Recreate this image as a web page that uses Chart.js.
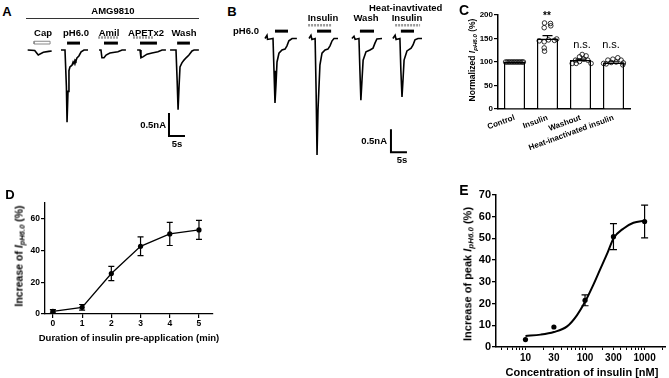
<!DOCTYPE html>
<html>
<head>
<meta charset="utf-8">
<script src="https://cdn.jsdelivr.net/npm/chart.js@4.4.1/dist/chart.umd.min.js"></script>
<style>
html,body{margin:0;padding:0;background:#fff}
body{width:669px;height:378px;position:relative;overflow:hidden;font-family:"Liberation Sans",Arial,sans-serif;color:#000}
canvas{position:absolute}
.t{position:absolute;white-space:nowrap;line-height:1;font-weight:bold;transform:translate(-50%,-50%)}
.r{transform:translate(-50%,-50%) rotate(-90deg)}
.la{transform:translate(0,-50%)}
.ra{transform:translate(-100%,-50%)}
.s{font-size:0.72em;vertical-align:-0.3em;font-style:italic}
.hr{position:absolute;height:1px;background:#333}
</style>
</head>
<body>

<canvas id="chartA" width="190" height="125" style="left:20px;top:20px"></canvas>
<canvas id="chartB" width="170" height="140" style="left:262px;top:20px"></canvas>
<canvas id="chartC" width="185" height="150" style="left:455px;top:5px"></canvas>
<canvas id="chartD" width="230" height="165" style="left:0px;top:180px"></canvas>
<canvas id="chartE" width="229" height="198" style="left:440px;top:180px"></canvas>

<!-- panel letters -->
<div class="t" style="left:7px;top:11px;font-size:13px">A</div>
<div class="t" style="left:232px;top:11px;font-size:13px">B</div>
<div class="t" style="left:464px;top:10px;font-size:14px">C</div>
<div class="t" style="left:10px;top:194px;font-size:13px">D</div>
<div class="t" style="left:464px;top:190px;font-size:14px">E</div>

<!-- A labels -->
<div class="t" style="left:113px;top:11px;font-size:9.5px">AMG9810</div>
<div class="hr" style="left:26px;top:18px;width:173px"></div>
<div class="t" style="left:43px;top:33px;font-size:9.5px">Cap</div>
<div class="t" style="left:76px;top:33px;font-size:9.5px">pH6.0</div>
<div class="t" style="left:109px;top:33px;font-size:9.5px">Amil</div>
<div class="t" style="left:146px;top:33px;font-size:9.5px">APETx2</div>
<div class="t" style="left:184px;top:33px;font-size:9.5px">Wash</div>
<div class="t ra" style="left:166px;top:125px;font-size:9.5px">0.5nA</div>
<div class="t" style="left:177px;top:144px;font-size:9.5px">5s</div>

<!-- B labels -->
<div class="t" style="left:246px;top:31px;font-size:9.5px">pH6.0</div>
<div class="t la" style="left:369px;top:8px;font-size:9.5px">Heat-inavtivated</div>
<div class="t" style="left:323px;top:18px;font-size:9.5px">Insulin</div>
<div class="t" style="left:366px;top:18px;font-size:9.5px">Wash</div>
<div class="t" style="left:407px;top:18px;font-size:9.5px">Insulin</div>
<div class="t ra" style="left:387px;top:141px;font-size:9.5px">0.5nA</div>
<div class="t" style="left:402px;top:160px;font-size:9.5px">5s</div>

<!-- C labels -->
<div class="t r" style="left:473px;top:60px;font-size:8.5px">Normalized <i>I</i><span class="s">pH6.0</span> (%)</div>
<div class="t" style="left:547px;top:16px;font-size:10px">**</div>
<div class="t" style="left:582px;top:44px;font-size:11px;font-weight:normal">n.s.</div>
<div class="t" style="left:611px;top:44px;font-size:11px;font-weight:normal">n.s.</div>

<!-- D labels -->
<div class="t r" style="left:20px;top:256px;font-size:10.5px">Increase of <i>I</i><span class="s">pH6.0</span> (%)</div>
<div class="t" style="left:129px;top:338px;font-size:9.5px">Duration of insulin pre-application (min)</div>

<!-- E labels -->
<div class="t r" style="left:469px;top:274px;font-size:11px">Increase of peak <i>I</i><span class="s">pH6.0</span> (%)</div>
<div class="t" style="left:582px;top:372px;font-size:11px">Concentration of insulin [nM]</div>

<script>
// ---- A: AMG9810 traces, [time s, current nA] ----
const capTrace   = [[2.4,0],[4.6,-0.01],[5.7,-0.11],[7.3,-0.05],[9.0,-0.03],[9.9,-0.02]]
const ph60Trace  = [[12.8,0],[14.06,0],[14.5,-0.8],[14.7,-1.57],[15.0,-0.9],[15.3,-0.45],[15.6,-0.37],[16.25,-0.33],[16.6,-0.26],[16.9,-0.30],[17.2,-0.22],[17.5,-0.24],[17.8,-0.17],[18.4,-0.13],[19.1,-0.04],[20,0],[21.25,0]]
const amilTrace  = [[24.7,0],[25.3,0],[25.6,-0.17],[26.25,-0.17],[26.9,-0.11],[28.1,-0.065],[30.6,-0.04],[31.9,0],[33.1,0]]
const apetxTrace = [[36.6,0],[37.5,0],[37.8,-0.17],[38.4,-0.15],[39.7,-0.09],[41.25,-0.065],[43.1,-0.04],[44.4,0],[45.6,0]]
const washTrace  = [[46.9,0],[48.75,0],[49.1,-0.65],[49.4,-1.30],[49.7,-0.8],[50,-0.37],[50.6,-0.28],[51.25,-0.22],[51.9,-0.17],[52.8,-0.11],[53.75,-0.02],[54.4,0],[55.9,0]]
const capApp   = [4.4, 9.4]
const phAppA   = [[14.7,18.75],[26.25,30.6],[37.5,42.8],[49.1,53.1]]
const blockApp = [[24.4,30.6],[35.3,41.6]]

// ---- B: insulin traces ----
const ctrlTrace  = [[0.94,0],[1.56,0.07],[1.72,-0.02],[3.44,0],[3.75,-0.7],[4.06,-1.40],[4.375,-1.0],[4.69,-0.51],[5.3,-0.32],[6.25,-0.25],[7.2,-0.23],[7.8,-0.16],[8.4,-0.05],[9.4,0],[10.9,0]]
const insTrace   = [[14.7,0],[15.3,0.07],[15.6,-0.02],[16.6,0],[16.9,-1.1],[17.2,-2.53],[17.5,-1.55],[18.1,-0.58],[18.75,-0.32],[19.7,-0.25],[20.6,-0.23],[21.25,-0.16],[21.9,-0.05],[22.5,0],[23.75,0]]
const wash2Trace = [[28.1,0],[28.75,0.05],[29.1,-0.02],[30.3,0],[30.6,-0.7],[30.9,-1.34],[31.25,-0.9],[31.6,-0.47],[32.5,-0.29],[33.75,-0.25],[34.7,-0.21],[35.3,-0.1],[35.9,-0.01],[37.5,0]]
const heatTrace  = [[40.9,0],[41.6,0.07],[41.9,-0.02],[43.1,0],[43.4,-0.7],[43.75,-1.27],[44.1,-0.86],[44.4,-0.47],[45.3,-0.27],[46.6,-0.21],[47.2,-0.14],[47.8,-0.03],[48.75,0],[50,0]]
const phAppB  = [[4.06,8.125],[17.2,21.6],[30.6,35],[43.4,47.5]]
const insApp  = [[14.4,21.9],[41.6,49.4]]

const scaleNA = 0.5
const scaleS = 5

// ---- C ----
const groups = ['Control','Insulin','Washout','Heat-inactivated insulin']
const groupMeans = [100, 150, 104, 99]
const groupSems = [0, 6, 2, 1.5]
const controlVals = [100,100,100,100,100,100,100,100,100,100,100,100]
const controlJit  = [-0.27,-0.22,-0.17,-0.12,-0.07,-0.02,0.03,0.08,0.13,0.18,0.23,0.27]
const insulinVals = [183,182,177,173,145,143,147,146,149,130,123]
const insulinJit  = [-0.09,0.09,0.1,-0.1,-0.25,-0.1,0.03,0.21,0.28,-0.1,-0.09]
const washVals = [97,104,111,116,113,106,104,97,101,97]
const washJit  = [-0.13,-0.15,-0.03,0.05,0.17,0.1,0.22,0.32,-0.03,-0.25]
const heatVals = [97,104,106,109,104,94,99,100,96,98]
const heatJit  = [-0.3,-0.17,-0.02,0.13,0.23,0.28,-0.07,0.08,-0.22,0.3]

// ---- D ----
const durations = [0,1,2,3,4,5]
const incMean = [1.7, 4.2, 25.5, 42.7, 50.5, 53]
const incSem = [1, 1.8, 4.5, 5.9, 7.3, 6]

// ---- E ----
const conc = [10,30,100,300,1000]
const peakMean = [3.4, 9.2, 21.5, 50.8, 57.8]
const peakSem = [0, 0, 2.5, 6, 7.5]
const fitConc = [10,18,30,50,73,100,137,177,242,300,444,650,1000]
const fitVal = [5.1,5.7,6.9,9.5,14.6,20.8,28.5,35.4,43.8,50,54.6,57.2,58.2]
const concLabels = [10,30,100,300,1000]

Chart.defaults.font.family = '"Liberation Sans", Arial, sans-serif'
Chart.defaults.font.weight = 'bold'
Chart.defaults.color = '#000'

const errorBars = {
    id: 'errorBars',
    afterDatasetsDraw(chart) {
        const ctx = chart.ctx
        chart.data.datasets.forEach((ds, i) => {
            if (!ds.errors) return
            const meta = chart.getDatasetMeta(i)
            const ys = chart.scales[meta.yAxisID]
            ctx.save()
            ctx.strokeStyle = '#000'
            ctx.lineWidth = ds.errWidth || 1.2
            meta.data.forEach((el, j) => {
                const e = ds.errors[j]
                if (!e) return
                const v = typeof ds.data[j] === 'object' ? ds.data[j].y : ds.data[j]
                const top = ys.getPixelForValue(v + e)
                const bot = ys.getPixelForValue(ds.errUpOnly ? v : v - e)
                const x = el.x, w = ds.capHalf || 3
                ctx.beginPath()
                ctx.moveTo(x, top); ctx.lineTo(x, bot)
                ctx.moveTo(x - w, top); ctx.lineTo(x + w, top)
                if (!ds.errUpOnly) { ctx.moveTo(x - w, bot); ctx.lineTo(x + w, bot) }
                ctx.stroke()
            })
            ctx.restore()
        })
    }
}

const pts = arr => arr.map(p => ({x: p[0], y: p[1]}))
const traceSet = arr => ({data: pts(arr), showLine: true, pointRadius: 0, borderColor: '#000', borderWidth: 1.6, tension: 0})
const barSet = (span, level, color, width, dash) => ({
    data: [{x: span[0], y: level}, {x: span[1], y: level}],
    showLine: true, pointRadius: 0, borderColor: color, borderWidth: width, borderDash: dash || []
})
const scaleBarSet = (t0, i0) => ({
    data: [{x: t0, y: i0}, {x: t0, y: i0 - scaleNA}, {x: t0 + scaleS, y: i0 - scaleNA}],
    showLine: true, pointRadius: 0, borderColor: '#000', borderWidth: 2, borderCapStyle: 'butt'
})
const traceOptions = (xmax, ymin, ymax) => ({
    responsive: false, animation: false, devicePixelRatio: 1,
    layout: {padding: 0},
    plugins: {legend: {display: false}, tooltip: {enabled: false}},
    scales: {
        x: {type: 'linear', min: 0, max: xmax, display: false},
        y: {type: 'linear', min: ymin, max: ymax, display: false}
    }
})

// A
const dsA = [capTrace, ph60Trace, amilTrace, apetxTrace, washTrace].map(traceSet)
dsA.push({
    data: [{x: capApp[0], y: 0.13}, {x: capApp[1], y: 0.13}, {x: capApp[1], y: 0.19}, {x: capApp[0], y: 0.19}, {x: capApp[0], y: 0.13}],
    showLine: true, pointRadius: 0, borderColor: '#888', borderWidth: 1
})
phAppA.forEach(s => dsA.push(barSet(s, 0.15, '#000', 3)))
blockApp.forEach(s => dsA.push(barSet(s, 0.27, '#999', 2.5, [2, 1])))
dsA.push(scaleBarSet(46.56, -1.37))
new Chart(document.getElementById('chartA'), {type: 'scatter', data: {datasets: dsA}, options: traceOptions(59.375, -2.065, 0.652)})

// B
const dsB = [ctrlTrace, insTrace, wash2Trace, heatTrace].map(traceSet)
phAppB.forEach(s => dsB.push(barSet(s, 0.16, '#000', 3)))
insApp.forEach(s => dsB.push(barSet(s, 0.29, '#999', 2.5, [2, 1])))
dsB.push(scaleBarSet(40.3, -1.97))
new Chart(document.getElementById('chartB'), {type: 'scatter', data: {datasets: dsB}, options: traceOptions(53.125, -2.641, 0.402)})

// C
const dots = []
;[[controlVals, controlJit], [insulinVals, insulinJit], [washVals, washJit], [heatVals, heatJit]].forEach((g, gi) => {
    g[0].forEach((v, k) => dots.push({x: gi + g[1][k], y: v}))
})
new Chart(document.getElementById('chartC'), {
    type: 'bar',
    data: {
        datasets: [
            {type: 'bar', data: groupMeans.map((m, i) => ({x: i, y: m})), errors: groupSems, errUpOnly: true, capHalf: 5,
             backgroundColor: '#fff', borderColor: '#000', borderWidth: 1.5,
             barPercentage: 0.64, categoryPercentage: 1, order: 2},
            {type: 'scatter', data: dots, pointRadius: 2.3,
             backgroundColor: 'rgba(0,0,0,0)', borderColor: '#000', borderWidth: 0.8, order: 1}
        ]
    },
    options: {
        responsive: false, animation: false, devicePixelRatio: 1,
        layout: {padding: {top: 10, right: 10, left: 0, bottom: 0}},
        plugins: {legend: {display: false}, tooltip: {enabled: false}},
        scales: {
            x: {
                type: 'linear', min: -0.5, max: 3.5, offset: false,
                afterBuildTicks(s) { s.ticks = groups.map((g, i) => ({value: i})) },
                grid: {display: false, drawTicks: false, offset: false},
                border: {color: '#000', width: 1.5},
                ticks: {minRotation: 20, maxRotation: 20, autoSkip: false, padding: 4, font: {size: 8, weight: 'bold'},
                        callback: v => groups[v]},
                afterFit(s) { s.height = 46 }
            },
            y: {
                min: 0, max: 200,
                grid: {drawOnChartArea: false, color: '#000', tickLength: 4, lineWidth: 1.2},
                border: {color: '#000', width: 1.5},
                ticks: {stepSize: 25, padding: 1, font: {size: 8, weight: 'bold'}, callback: v => v % 50 === 0 ? v : ''},
                afterFit(s) { s.width = 43 }
            }
        }
    },
    plugins: [errorBars]
})

// D
new Chart(document.getElementById('chartD'), {
    type: 'scatter',
    data: {
        datasets: [{
            data: durations.map((d, i) => ({x: d, y: incMean[i]})),
            errors: incSem, capHalf: 3,
            showLine: true, borderColor: '#000', borderWidth: 1.3,
            pointRadius: 2.6, backgroundColor: '#000', pointBorderWidth: 0
        }]
    },
    options: {
        responsive: false, animation: false, devicePixelRatio: 1,
        layout: {padding: {top: 23, right: 17, left: 0, bottom: 0}},
        plugins: {legend: {display: false}, tooltip: {enabled: false}},
        scales: {
            x: {
                type: 'linear', min: -0.27, max: 5.48,
                afterBuildTicks(s) { s.ticks = durations.map(v => ({value: v})) },
                grid: {drawOnChartArea: false, color: '#000', tickLength: 4, lineWidth: 1.2},
                border: {color: '#000', width: 1.3},
                ticks: {autoSkip: false, maxRotation: 0, padding: 1, font: {size: 8.5, weight: 'bold'}},
                afterFit(s) { s.height = 31 }
            },
            y: {
                min: 0, max: 70,
                afterBuildTicks(s) { s.ticks = [0, 20, 40, 60].map(v => ({value: v})) },
                grid: {drawOnChartArea: false, color: '#000', tickLength: 4, lineWidth: 1.2},
                border: {color: '#000', width: 1.3},
                ticks: {padding: 1, font: {size: 8.5, weight: 'bold'}},
                afterFit(s) { s.width = 45 }
            }
        }
    },
    plugins: [errorBars]
})

// E
const logTicks = []
;[1, 10, 100, 1000].forEach(dec => {
    for (let m = 1; m <= 9; m++) {
        const v = m * dec
        if (v >= 3.2 && v <= 2200) logTicks.push(v)
    }
})
new Chart(document.getElementById('chartE'), {
    type: 'scatter',
    data: {
        datasets: [
            {data: fitConc.map((c, i) => ({x: c, y: fitVal[i]})), showLine: true, pointRadius: 0,
             borderColor: '#000', borderWidth: 2, tension: 0.4, cubicInterpolationMode: 'monotone'},
            {data: conc.map((c, i) => ({x: c, y: peakMean[i]})), errors: peakSem, capHalf: 3.5,
             pointRadius: 2.6, backgroundColor: '#000', pointBorderWidth: 0}
        ]
    },
    options: {
        responsive: false, animation: false, devicePixelRatio: 1,
        layout: {padding: {top: 15, right: 0, left: 0, bottom: 0}},
        plugins: {legend: {display: false}, tooltip: {enabled: false}},
        scales: {
            x: {
                type: 'logarithmic', min: 3.2, max: 2200,
                afterBuildTicks(s) { s.ticks = logTicks.map(v => ({value: v})) },
                grid: {drawOnChartArea: false, color: '#000', tickLength: 3, lineWidth: 1},
                border: {color: '#000', width: 1.5},
                ticks: {autoSkip: false, maxRotation: 0, padding: 2, font: {size: 10, weight: 'bold'},
                        callback: v => concLabels.includes(v) ? String(v) : ''},
                afterFit(s) { s.height = 31 }
            },
            y: {
                min: 0, max: 70,
                grid: {drawOnChartArea: false, color: '#000', tickLength: 4, lineWidth: 1.3},
                border: {color: '#000', width: 1.5},
                ticks: {stepSize: 10, padding: 1, font: {size: 11, weight: 'bold'}},
                afterFit(s) { s.width = 56 }
            }
        }
    },
    plugins: [errorBars]
})
</script>
</body>
</html>
